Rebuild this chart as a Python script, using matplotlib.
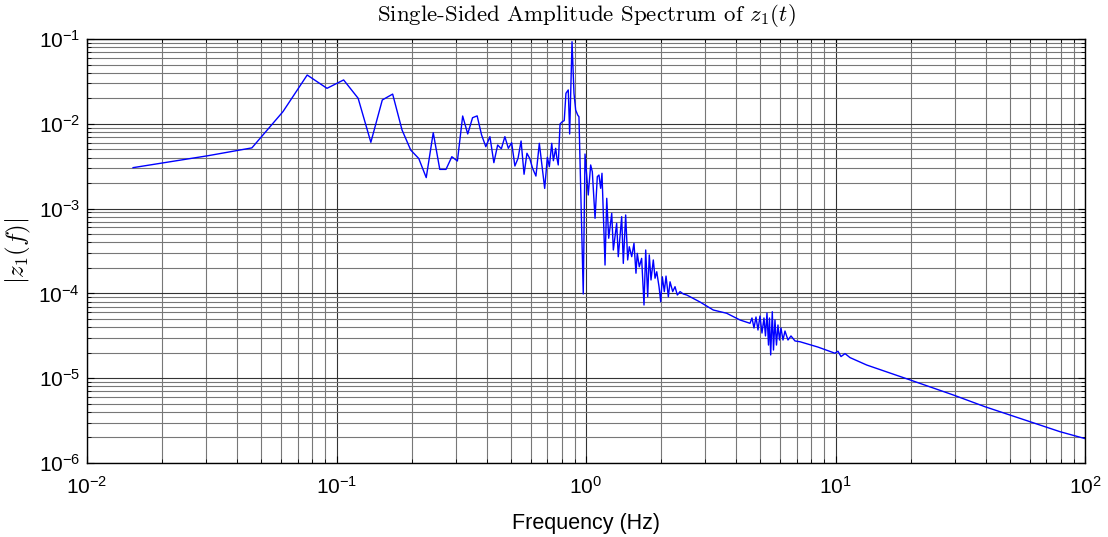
import numpy as np
import matplotlib
matplotlib.use("Agg")
import matplotlib.pyplot as plt
from matplotlib.ticker import LogLocator, NullFormatter

plt.rcParams['font.family'] = ['Liberation Sans', 'DejaVu Sans']

# low band (first bins of the FFT)
freq_low = [0.0153, 0.0305, 0.0458, 0.0610, 0.0763, 0.0916, 0.1068, 0.1221, 0.1373, 0.1526,
            0.1679, 0.1831, 0.1984, 0.2136, 0.2289, 0.2442, 0.2594, 0.2747, 0.2899, 0.3052,
            0.3204, 0.3357, 0.3510, 0.3662, 0.3815, 0.3967, 0.4120, 0.4273, 0.4425, 0.4578,
            0.4730, 0.4883, 0.5035, 0.5188, 0.5341, 0.5493, 0.5646, 0.5798, 0.5951, 0.6104]
amp_low = [3.04e-3, 4.2e-3, 5.2e-3, 1.39e-2, 3.76e-2, 2.62e-2, 3.29e-2, 2.00e-2, 6.05e-3, 1.91e-2,
           2.24e-2, 8.45e-3, 4.9e-3, 3.9e-3, 2.32e-3, 7.85e-3, 2.9e-3, 2.9e-3, 4.09e-3, 3.64e-3,
           1.236e-2, 7.59e-3, 1.18e-2, 1.24e-2, 7.38e-3, 5.37e-3, 7.05e-3, 3.48e-3, 5.62e-3, 5.08e-3,
           7.05e-3, 5.14e-3, 5.98e-3, 3.18e-3, 3.92e-3, 6.27e-3, 2.54e-3, 4.49e-3, 3.9e-3, 3.0e-3]

# resonance around 0.9 Hz
freq_res = [0.630, 0.650, 0.683, 0.700, 0.713, 0.729, 0.740, 0.756, 0.763, 0.774,
            0.787, 0.804, 0.818, 0.831, 0.849, 0.860, 0.879, 0.895, 0.909, 0.926,
            0.937, 0.975]
amp_res = [2.42e-3, 5.89e-3, 1.73e-3, 4.03e-3, 3.12e-3, 5.89e-3, 3.67e-3, 5.14e-3, 4.09e-3, 3.27e-3,
           9.95e-3, 1.06e-2, 1.09e-2, 2.29e-2, 2.51e-2, 7.58e-3, 9.29e-2, 2.29e-2, 1.455e-2, 1.27e-2,
           1.21e-2, 9.84e-5]

# decay between 1 and 2.6 Hz
freq_dec = [0.991, 1.021, 1.044, 1.060, 1.087, 1.110, 1.127, 1.145, 1.159, 1.192,
            1.211, 1.233, 1.268, 1.287, 1.327, 1.347, 1.390, 1.411, 1.442, 1.469,
            1.491, 1.525, 1.557, 1.586, 1.605, 1.635, 1.671, 1.708, 1.735, 1.767,
            1.793, 1.822, 1.861, 1.891, 1.921, 1.962, 1.993, 2.023, 2.060, 2.093,
            2.138, 2.172, 2.226, 2.274, 2.323, 2.382, 2.455, 2.533, 2.611]
amp_dec = [4.4e-3, 1.446e-3, 3.27e-3, 2.72e-3, 7.69e-4, 2.38e-3, 2.49e-3, 1.735e-3, 2.61e-3, 2.16e-4,
           1.323e-3, 4.47e-4, 8.80e-4, 3.25e-4, 6.71e-4, 2.71e-4, 8.03e-4, 2.26e-4, 8.41e-4, 2.48e-4,
           3.55e-4, 2.71e-4, 3.90e-4, 1.73e-4, 2.97e-4, 2.06e-4, 2.59e-4, 7.30e-5, 3.25e-4, 9.14e-5,
           2.84e-4, 1.44e-4, 2.48e-4, 1.51e-4, 1.80e-4, 1.20e-4, 7.98e-5, 1.57e-4, 1.05e-4, 1.60e-4,
           9.14e-5, 1.37e-4, 1.05e-4, 1.20e-4, 9.57e-5, 1.05e-4, 9.84e-5, 9.57e-5, 9.14e-5]

# tail with the small bump near 5.5 Hz
freq_tail = [2.863, 3.237, 3.664, 4.141, 4.543, 4.627, 4.713, 4.801, 4.890, 4.981,
             5.074, 5.168, 5.240, 5.313, 5.388, 5.437, 5.498, 5.580, 5.642, 5.720,
             5.800, 5.880, 5.963, 6.046, 6.159, 6.274, 6.450, 6.631, 6.880, 7.21,
             8.5, 9.95, 10.23, 10.52, 10.92, 11.43, 13.34, 19.58, 29.66, 39.73,
             60.2, 79.4, 100.0]
amp_tail = [7.92e-5, 6.37e-5, 5.83e-5, 4.86e-5, 4.44e-5, 5.13e-5, 3.91e-5, 5.27e-5, 3.70e-5, 5.41e-5,
            3.41e-5, 5.13e-5, 3.15e-5, 5.87e-5, 2.46e-5, 5.13e-5, 1.88e-5, 6.08e-5, 2.15e-5, 4.86e-5,
            2.46e-5, 4.24e-5, 2.82e-5, 3.91e-5, 2.82e-5, 3.60e-5, 2.82e-5, 3.15e-5, 2.75e-5, 2.69e-5,
            2.33e-5, 1.97e-5, 2.08e-5, 1.80e-5, 1.95e-5, 1.75e-5, 1.43e-5, 9.70e-6, 6.34e-6, 4.61e-6,
            3.07e-6, 2.34e-6, 1.94e-6]

freq = np.concatenate([freq_low, freq_res, freq_dec, freq_tail])
amp = np.concatenate([amp_low, amp_res, amp_dec, amp_tail])

fig = plt.figure(figsize=(11.08, 5.37), dpi=100)
ax = fig.add_axes([87 / 1108, 1 - 463 / 537, 998 / 1108, 424 / 537])

ax.loglog(freq, amp, color='#0000ff', linewidth=1.0)
ax.set_xlim(1e-2, 1e2)
ax.set_ylim(1e-6, 1e-1)

for axis in (ax.xaxis, ax.yaxis):
    axis.set_major_locator(LogLocator(base=10, numticks=20))
    axis.set_minor_locator(LogLocator(base=10, subs=np.arange(2, 10), numticks=20))
    axis.set_minor_formatter(NullFormatter())

ax.grid(True, which='major', color='#333333', linewidth=0.8)
ax.grid(True, which='minor', color='#777777', linewidth=0.8)
ax.set_axisbelow(True)

ax.tick_params(which='both', direction='in', top=True, right=True, labelsize=15)
ax.tick_params(which='major', length=5)
ax.tick_params(which='minor', length=3)
ax.tick_params(axis='x', pad=9)
ax.tick_params(axis='y', pad=5)
for s in ax.spines.values():
    s.set_linewidth(1.0)

ax.set_xlabel('Frequency (Hz)', fontsize=15.5, labelpad=11)
ax.set_ylabel(r'$|z_1(f)|$', fontsize=18, math_fontfamily='cm', labelpad=4)
ax.set_title(r'Single-Sided Amplitude Spectrum of $z_1(t)$', fontsize=16.5,
             family='cmr10', math_fontfamily='cm', pad=13)

plt.savefig('out.png', dpi=100)
